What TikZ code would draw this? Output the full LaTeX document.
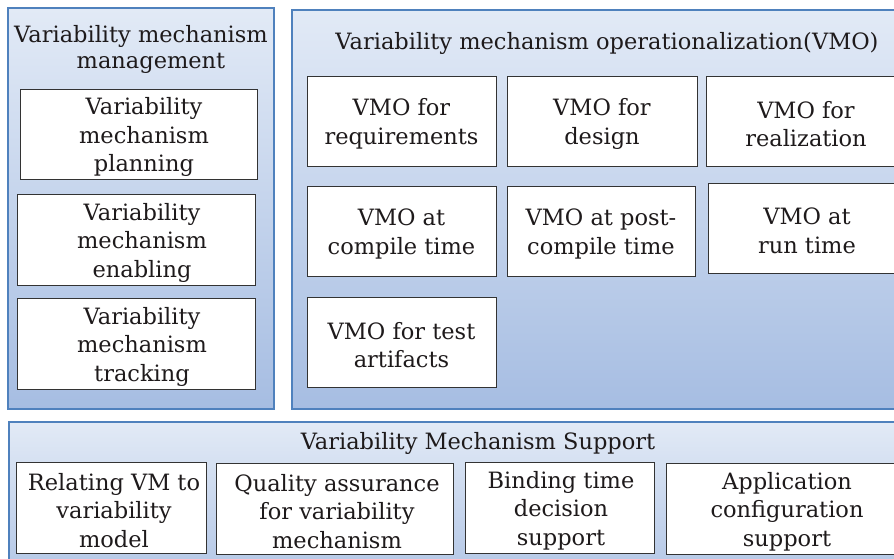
\documentclass[tikz,border=0pt]{standalone}
\usepackage{fontspec}
\setmainfont{DejaVu Serif}
\definecolor{panelblue}{HTML}{4F81BD}
\definecolor{paneltop}{HTML}{E2EAF6}
\definecolor{panelbot}{HTML}{A6BDE2}
\definecolor{boxgray}{HTML}{333333}
\definecolor{txtcol}{HTML}{1E1A1B}
\tikzset{
  panel/.style={draw=panelblue, line width=1.3pt, top color=paneltop, bottom color=panelbot},
  ibox/.style={draw=boxgray, line width=0.9pt, fill=white},
  txt/.style={font=\fontsize{22.5}{28.5}\selectfont, align=center, text=txtcol, inner sep=0pt, yshift=-3pt}
}
\begin{document}
\begin{tikzpicture}[x=1pt,y=-1pt]
\useasboundingbox (0,0) rectangle (894,558);
\clip (0,0) rectangle (894,558);
% left panel
\draw[panel] (8,8) rectangle (274,409);
\node[txt, font=\fontsize{22.5}{26}\selectfont] (lt) at (141,46) {Variability mechanism\\\hspace*{20pt}management};
\draw[ibox] (20,89) rectangle (257,179);
\node[txt] (l1) at (144,134) {Variability\\mechanism\\planning};
\draw[ibox] (17,194) rectangle (255,285);
\node[txt] (l2) at (142,239.5) {Variability\\mechanism\\enabling};
\draw[ibox] (17,298) rectangle (255,389);
\node[txt] (l3) at (142,343.5) {Variability\\mechanism\\tracking};
% right panel
\draw[panel] (292,10) rectangle (960,409);
\node[txt] (rt) at (607,40) {Variability mechanism operationalization(VMO)};
\draw[ibox] (307,76) rectangle (496,166);
\node[txt] (r1a) at (401.5,121) {VMO for\\requirements};
\draw[ibox] (507,76) rectangle (697,166);
\node[txt] (r1b) at (602,121) {VMO for\\design};
\draw[ibox] (706,76) rectangle (906,166);
\node[txt] (r1c) at (806,121) {VMO for\\realization};
\draw[ibox] (307,186) rectangle (496,276);
\node[txt] (r2a) at (401.5,231) {VMO at\\compile time};
\draw[ibox] (507,186) rectangle (695,276);
\node[txt] (r2b) at (601,231) {VMO at post-\\compile time};
\draw[ibox] (708,183) rectangle (906,273);
\node[txt] (r2c) at (807,228) {VMO at\\run time};
\draw[ibox] (307,297) rectangle (496,387);
\node[txt] (r3a) at (401.5,342) {VMO for test\\artifacts};
% bottom panel
\draw[panel] (9,422) rectangle (960,620);
\node[txt] (bt) at (478,440) {Variability Mechanism Support};
\draw[ibox] (16,462) rectangle (206,553);
\node[txt] (b1) at (114,507.5) {Relating VM to\\variability\\model};
\draw[ibox] (216,463) rectangle (453,554);
\node[txt] (b2) at (337,508.5) {Quality assurance\\for variability\\mechanism};
\draw[ibox] (465,462) rectangle (654,553);
\node[txt] (b3) at (561,507.5) {Binding time\\decision\\support};
\draw[ibox] (666,463) rectangle (910,554);
\node[txt] (b4) at (787,508.5) {Application\\configuration\\support};
\end{tikzpicture}
\end{document}
